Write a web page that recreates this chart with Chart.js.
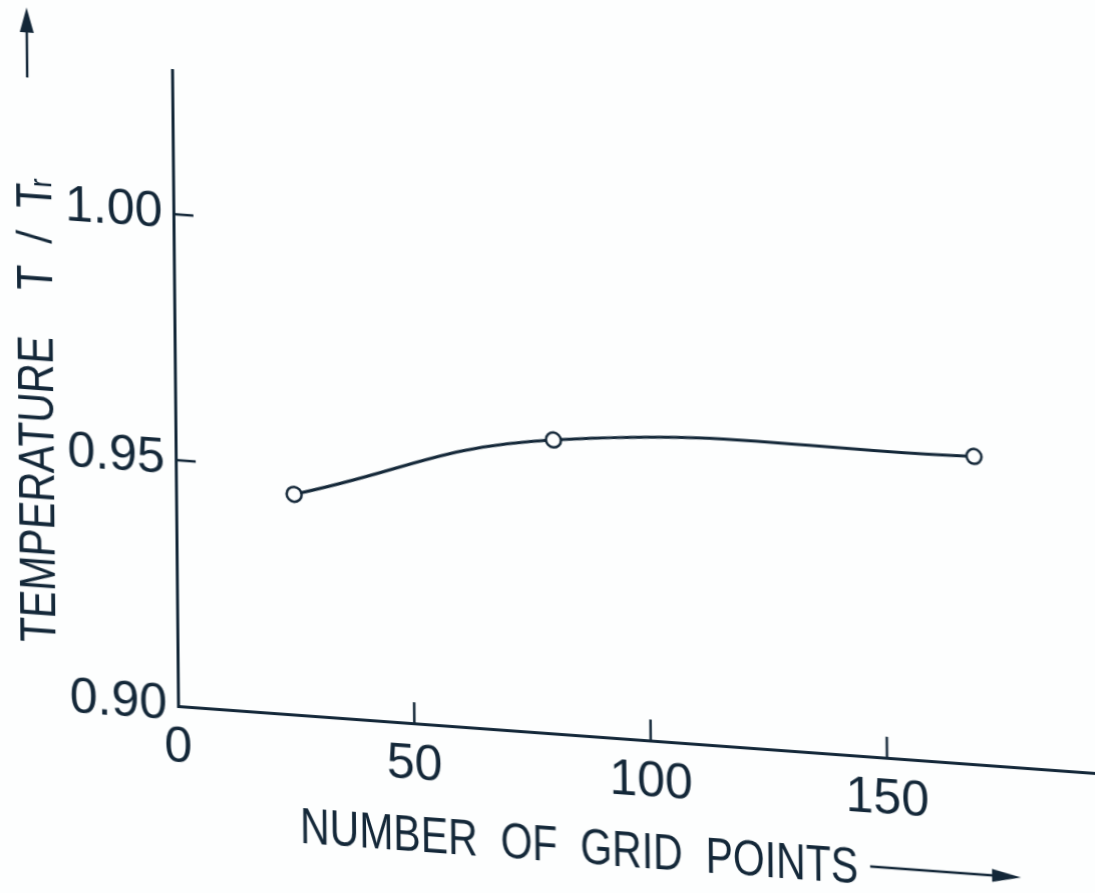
<!DOCTYPE html>
<html>
<head>
<meta charset="utf-8">
<script src="https://cdn.jsdelivr.net/npm/chart.js@4.4.1/dist/chart.umd.min.js"></script>
<style>
  html, body { margin: 0; padding: 0; background: #fdfefe; overflow: hidden; }
  /* the sheet is drawn slightly sheared, like a page lying at an angle */
  #sheet {
    position: absolute; left: 0; top: 0; width: 1095px; height: 893px;
    transform-origin: 178px 706px;
    transform: matrix(1, 0.073, 0.0094, 1, 0, 0);
  }
  canvas { display: block; }
</style>
</head>
<body>
<div id="sheet"><canvas id="chart" width="1095" height="893"></canvas></div>
<script>
// Grid-refinement study: temperature ratio vs number of grid points
const gridPoints = [25, 80, 169];
const temperatureRatio = [0.9448, 0.9597, 0.9626];

const xTickValues = [0, 50, 100, 150];
const yTickValues = [0.90, 0.95, 1.00];

const xTitle = 'NUMBER  OF  GRID  POINTS';
const yTitleMain = 'TEMPERATURE    T  /  T';
const yTitleSub = 'r';

const INK = '#132738';
const FONT = '"Liberation Sans", Arial, sans-serif';
const NARROW = 0.82;

function arrow(ctx, x1, y1, x2, y2, headLen, headHalf) {
  const ang = Math.atan2(y2 - y1, x2 - x1);
  const bx = x2 - headLen * Math.cos(ang), by = y2 - headLen * Math.sin(ang);
  ctx.beginPath();
  ctx.moveTo(x1, y1);
  ctx.lineTo(bx, by);
  ctx.stroke();
  ctx.beginPath();
  ctx.moveTo(x2, y2);
  ctx.lineTo(bx + headHalf * Math.sin(ang), by - headHalf * Math.cos(ang));
  ctx.lineTo(bx - headHalf * Math.sin(ang), by + headHalf * Math.cos(ang));
  ctx.closePath();
  ctx.fill();
}

// inward tick marks, axis titles and their arrows
const decorations = {
  id: 'decorations',
  afterDraw(chart) {
    const { ctx, chartArea: a, scales: { x, y } } = chart;
    ctx.save();
    ctx.strokeStyle = INK;
    ctx.fillStyle = INK;
    ctx.lineWidth = 2.5;
    ctx.lineCap = 'butt';

    xTickValues.forEach(v => {
      if (v === x.min) return;
      const px = x.getPixelForValue(v);
      ctx.beginPath();
      ctx.moveTo(px, a.bottom);
      ctx.lineTo(px, a.bottom - 21);
      ctx.stroke();
    });
    yTickValues.forEach(v => {
      if (v === y.min) return;
      const py = y.getPixelForValue(v);
      ctx.beginPath();
      ctx.moveTo(a.left, py);
      ctx.lineTo(a.left + 20, py);
      ctx.stroke();
    });

    // x-axis title with arrow
    ctx.font = '50px ' + FONT;
    ctx.textBaseline = 'alphabetic';
    ctx.textAlign = 'left';
    const tx = a.left + 121, ty = a.bottom + 128;
    ctx.save();
    ctx.translate(tx, ty);
    ctx.scale(NARROW, 1);
    ctx.fillText(xTitle, 0, 0);
    ctx.restore();
    const tw = ctx.measureText(xTitle).width * NARROW;
    const ay = ty - 18;
    arrow(ctx, tx + tw + 12, ay, 1020, ay, 29, 6.5);

    // y-axis title (rotated) with arrow
    ctx.save();
    ctx.translate(56, 653);
    ctx.rotate(-Math.PI / 2);
    ctx.scale(NARROW, 1);
    ctx.fillText(yTitleMain, 0, 0);
    const mw = ctx.measureText(yTitleMain).width;
    ctx.font = '32px ' + FONT;
    ctx.fillText(yTitleSub, mw - 4, 0);
    ctx.restore();
    arrow(ctx, 33, 88, 33, 18, 25, 7);

    ctx.restore();
  }
};

new Chart(document.getElementById('chart'), {
  type: 'line',
  data: {
    datasets: [{
      data: gridPoints.map((g, i) => ({ x: g, y: temperatureRatio[i] })),
      borderColor: INK,
      borderWidth: 3,
      tension: 0.45,
      pointRadius: 7.5,
      pointBorderWidth: 2.5,
      pointBackgroundColor: '#fdfefe',
      pointBorderColor: INK,
      fill: false
    }]
  },
  options: {
    responsive: false,
    animation: false,
    devicePixelRatio: 1,
    layout: { autoPadding: false, padding: { top: 70, left: 0, right: 0, bottom: 0 } },
    plugins: { legend: { display: false }, tooltip: { enabled: false } },
    scales: {
      x: {
        type: 'linear',
        min: 0,
        max: 194,
        afterFit(s) { s.height = 187; s.paddingLeft = 0; s.paddingRight = 0; },
        afterBuildTicks(s) { s.ticks = xTickValues.map(v => ({ value: v })); },
        ticks: {
          color: INK,
          font: { family: FONT, size: 50 },
          padding: 12,
          maxRotation: 0,
          callback: v => String(v)
        },
        grid: { display: true, drawOnChartArea: false, drawTicks: false },
        border: { display: true, color: INK, width: 3 }
      },
      y: {
        type: 'linear',
        min: 0.90,
        max: 1.0293,
        afterFit(s) { s.width = 178; s.paddingTop = 0; s.paddingBottom = 0; },
        afterBuildTicks(s) { s.ticks = yTickValues.map(v => ({ value: v })); },
        ticks: {
          color: INK,
          font: { family: FONT, size: 50 },
          padding: 11,
          callback: v => v.toFixed(2)
        },
        grid: { display: true, drawOnChartArea: false, drawTicks: false },
        border: { display: true, color: INK, width: 3 }
      }
    }
  },
  plugins: [decorations]
});
</script>
</body>
</html>
